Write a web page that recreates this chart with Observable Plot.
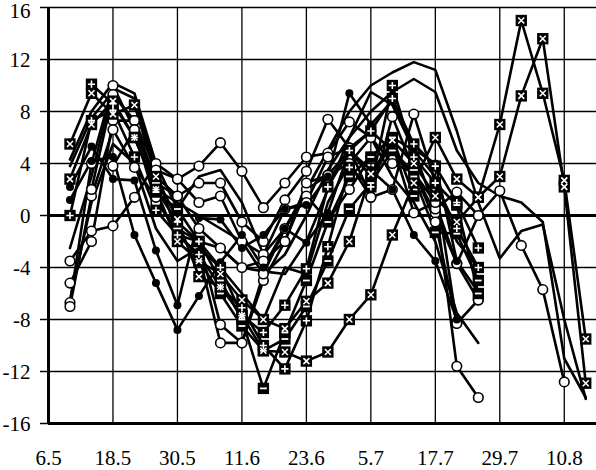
<!DOCTYPE html>
<html>
<head>
<meta charset="utf-8">
<script src="https://cdn.jsdelivr.net/npm/d3@7"></script>
<script src="https://cdn.jsdelivr.net/npm/@observablehq/plot@0.6"></script>
<style>
  html, body { margin: 0; padding: 0; background: white; }
  svg text { font-family: "Liberation Serif", "Times New Roman", serif !important; }
</style>
</head>
<body>
<div id="chart"></div>
<script>
// Category dates (day.month) of the observations
const pointDates = ["10.5","14.5","18.5","22.5","26.5","30.5","3.6","7.6","11.6","15.6","19.6","23.6","27.6",
                    "1.7","5.7","9.7","13.7","17.7","21.7","25.7","29.7","2.8","6.8","10.8","14.8"];
// Axis tick labels
const tickLabels = ["6.5","18.5","30.5","11.6","23.6","5.7","17.7","29.7","10.8"];
const yTicks = [-16, -12, -8, -4, 0, 4, 8, 12, 16];

// Series with boxed "x" markers
const x1 = [5.5, 9.4, 7.8, 8.5, 3.0, -0.3, -4.7, -5.5, -7.7, -10.4, -10.5, -11.2, -10.5, -8.0, -6.1, -1.5, 2.5, 6.0, 2.8, 1.4, 7.0, 15.0, 9.4, 2.7, -9.5];
const x2 = [2.8, 7.0, 8.8, 6.0, 2.0, -2.0, -3.5, -4.5, -6.5, -8.0, -8.7, -6.6, -5.2, -2.0, 3.2, 5.8, 4.0, 1.5, -0.5, 1.4, 3.0, 9.2, 13.6, 2.2, -12.9];
// Series with boxed "+" markers
const p1 = [0.0, 7.3, 8.1, 4.5, 0.4, -1.5, -3.0, -5.5, -7.1, -10.0, -11.8, -8.1, -2.4, 3.7, 2.2, 10.0, 4.5, 2.5, -1.0, -4.0];
const p2 = [null, 10.1, 8.6, 6.0, 2.0, -0.5, -2.0, -4.0, -7.7, -9.0, -6.9, -4.1, 2.2, 5.0, 6.5, 9.0, 5.5, 3.8, 1.0, -2.5];
// Series with boxed "-" markers
const m1 = [null, null, null, null, 1.8, 0.5, -2.0, -5.0, -8.0, -13.3, -9.0, -5.0, -0.5, 3.0, 4.5, 6.0, 1.5, 2.5, 0.8, -6.0];
const m2 = [null, null, null, null, null, null, -3.5, -6.0, -8.5, -10.4, -9.5, -7.0, -3.5, 0.5, 2.5, 5.0, 3.0, -1.3, -1.4, -5.0];
// Series with filled dots
const d1 = [2.2, 5.3, 2.8, 2.7, -2.7, -6.9, -0.2, -0.3, -2.5, -1.5, 0.5, 0.8, 3.0, 9.4, 7.0, 8.8, 5.1, 4.0, -3.5, -5.9];
const d2 = [1.2, 4.2, 4.5, -1.5, -5.2, -8.8, -6.2, -3.6, -1.5, -4.0, -1.0, -2.1, 0.2, 5.0, 3.5, 2.0, -1.5, -3.5, -8.0];
// Series with open circles
const c1 = [-3.5, -1.2, -0.8, 1.4, 4.0, 2.8, 3.8, 5.6, 3.4, 0.6, 2.5, 4.5, 4.8, 7.2, 6.0, 4.0, 3.3, 0.2, -3.7, 0.0];
const c2 = [-5.2, -2.0, 7.3, 7.3, 2.5, 1.5, 2.5, 2.5, -0.5, -2.0, 1.2, 3.4, 7.4, 5.2, 1.4, 2.0, 7.8, 2.5, -8.3, -6.5];
const c3 = [-6.7, 4.0, 10.0, 6.6, 1.0, -1.0, -2.0, -8.4, -9.8, -5.0, -2.0, 2.0, 3.1, 5.0, 3.0, 5.5, 0.2, 1.0, -11.6, -14.0];
const c4 = [-7.0, 1.5, 6.6, 3.7, 1.4, -1.5, -3.0, -9.8, -9.8, -4.5, -1.0, 1.5, -0.4, 2.0, 4.5, 6.0, 5.0, 0.5, 1.8, 0.0, 1.9, -2.3, -5.7, -12.8];
const c5 = [null, 2.0, 9.3, 7.3, 3.5, 2.8, 1.0, 1.5, -2.0, -3.0, 0.5, 1.0, 4.5, 5.2, 6.5, 5.0, 3.3, 1.0, -3.7, -6.5];
const c6 = [null, null, 3.8, 6.6, 3.0, 1.5, -1.0, -2.5, -4.0, -3.5, -2.0, 2.5, 3.1, 4.0, 1.4, 7.6, 3.5, -0.5, -8.3];
// Series drawn as plain lines
const l1 = [4.3, 8.0, 10.2, 9.4, 4.0, 0.5, 3.0, 3.5, 1.0, -3.0, -1.0, 2.0, 5.0, 8.0, 10.0, 11.0, 11.8, 11.2, 6.5, 1.0, -3.3, -1.2, -0.7, -8.0, -14.1];
const l2 = [-2.5, 3.0, 9.8, 9.0, 3.5, -1.5, -2.0, -2.5, -4.0, -4.3, -4.5, -2.0, 2.0, 6.0, 8.0, 9.5, 10.5, 9.5, 5.0, 2.5, 1.5, 1.0, -0.5, -11.0, -14.0];
const l3 = [-6.5, 1.0, 5.5, 4.0, -1.0, -3.5, -2.5, -4.0, -6.0, -8.0, -4.0, -4.5, 1.0, 4.0, 6.0, 3.0, 1.0, -2.0, -7.5, -9.8];
const l4 = [3.8, 7.5, 9.5, 7.0, 2.0, 1.0, 0.0, -1.0, -2.0, -4.5, -3.0, 0.0, 3.5, 6.0, 9.5, 8.5, 5.0, 3.0, -2.0, -4.0];

const seriesList = [
  {name: "l1", marker: "none", values: l1},
  {name: "l2", marker: "none", values: l2},
  {name: "l3", marker: "none", values: l3},
  {name: "l4", marker: "none", values: l4},
  {name: "c1", marker: "circle", values: c1},
  {name: "c2", marker: "circle", values: c2},
  {name: "c3", marker: "circle", values: c3},
  {name: "c4", marker: "circle", values: c4},
  {name: "c5", marker: "circle", values: c5},
  {name: "c6", marker: "circle", values: c6},
  {name: "d1", marker: "dot", values: d1},
  {name: "d2", marker: "dot", values: d2},
  {name: "m1", marker: "minus", values: m1},
  {name: "m2", marker: "minus", values: m2},
  {name: "p1", marker: "plus", values: p1},
  {name: "p2", marker: "plus", values: p2},
  {name: "x2", marker: "times", values: x2},
  {name: "x1", marker: "times", values: x1}
];

const dateOf = s => { const [d, m] = s.split(".").map(Number); return new Date(Date.UTC(2000, m - 1, d)); };
const tickDates = tickLabels.map(dateOf);

const rows = [];
for (const s of seriesList) {
  s.values.forEach((v, i) => {
    if (v != null) rows.push({date: dateOf(pointDates[i]), value: v, series: s.name, marker: s.marker});
  });
}
const byMarker = m => rows.filter(r => r.marker === m);

const dashSymbol = {
  draw(context, size) {
    const r = Math.sqrt(size / Math.PI);
    context.moveTo(-r, 0);
    context.lineTo(r, 0);
  }
};
const crossSymbol = {
  draw(context, size) {
    const r = Math.sqrt(size / Math.PI) * 0.75;
    context.moveTo(-r, -r); context.lineTo(r, r);
    context.moveTo(-r, r); context.lineTo(r, -r);
  }
};
const plusSymbol = {
  draw(context, size) {
    const r = Math.sqrt(size / Math.PI);
    context.moveTo(-r, 0); context.lineTo(r, 0);
    context.moveTo(0, -r); context.lineTo(0, r);
  }
};

const boxed = rows.filter(r => r.marker === "times" || r.marker === "plus" || r.marker === "minus");
const fmtY = d => d < 0 ? "-" + (-d) : String(d);
const serif = "Liberation Serif";

const chart = Plot.plot({
  width: 596,
  height: 470,
  marginLeft: 48,
  marginRight: 0,
  marginTop: 7,
  marginBottom: 47,
  style: "font-family: 'Liberation Serif', serif; font-size: 21px; background: white; color: black;",
  x: {type: "utc", domain: [dateOf("6.5"), dateOf("16.8")], label: null},
  y: {domain: [-16, 16], label: null},
  marks: [
    Plot.ruleY(yTicks.filter(t => t !== 0 && t !== -16), {stroke: "black", strokeWidth: 1.3}),
    Plot.ruleX(tickDates.slice(1), {stroke: "black", strokeWidth: 1.3}),
    Plot.ruleY([0], {stroke: "black", strokeWidth: 3}),
    Plot.line(rows, {x: "date", y: "value", z: "series", stroke: "black", strokeWidth: 2.6, strokeLinejoin: "round"}),
    Plot.dot(byMarker("circle"), {x: "date", y: "value", r: 4.8, fill: "white", stroke: "black", strokeWidth: 1.6}),
    Plot.dot(byMarker("dot"), {x: "date", y: "value", r: 4, fill: "black", stroke: "none"}),
    Plot.dot(boxed, {x: "date", y: "value", symbol: "square", r: 6.4, fill: "black", stroke: "none"}),
    Plot.dot(byMarker("times"), {x: "date", y: "value", symbol: crossSymbol, r: 4, stroke: "white", strokeWidth: 1.6, fill: "none"}),
    Plot.dot(byMarker("plus"), {x: "date", y: "value", symbol: plusSymbol, r: 3.6, stroke: "white", strokeWidth: 1.6, fill: "none"}),
    Plot.dot(byMarker("minus"), {x: "date", y: "value", symbol: dashSymbol, r: 3.4, stroke: "white", strokeWidth: 1.8, fill: "none"}),
    Plot.ruleY([-16], {stroke: "black", strokeWidth: 3}),
    Plot.ruleX([dateOf("6.5")], {stroke: "black", strokeWidth: 3}),
    Plot.axisY({ticks: yTicks, tickSize: 8, text: null, stroke: "black", strokeWidth: 1.5, label: null}),
    Plot.text(yTicks.filter(t => t !== 16), {y: d => d, text: fmtY, frameAnchor: "left", textAnchor: "end",
      dx: -18, dy: 1, fontSize: 21, fontFamily: serif, fill: "black"}),
    Plot.text([16], {y: d => d, text: fmtY, frameAnchor: "left", textAnchor: "end",
      dx: -18, dy: 4, lineAnchor: "middle", fontSize: 21, fontFamily: serif, fill: "black"}),
    Plot.axisX({ticks: tickDates, tickSize: 0, tickPadding: 27, fontSize: 21, fontFamily: serif, label: null,
      tickFormat: d => tickLabels[tickDates.findIndex(t => +t === +d)]})
  ]
});
document.getElementById("chart").appendChild(chart);
</script>
</body>
</html>
